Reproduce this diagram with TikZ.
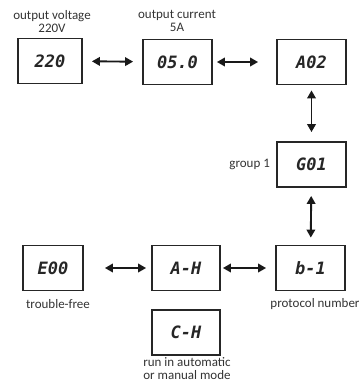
\documentclass[tikz,border=0pt]{standalone}
\usepackage{fontspec}
\setmainfont{Carlito}
\newfontfamily\segfont{DejaVu Sans Mono}
\usetikzlibrary{positioning,arrows.meta}

\begin{document}
\begin{tikzpicture}[
x=1pt,y=-1pt,
display/.style={draw=black!85,line width=1.8pt,minimum width=68pt,minimum height=45pt,inner sep=0pt,font=\segfont\bfseries\itshape\fontsize{17}{17}\selectfont,text=black!85},
caption/.style={align=center,font=\fontsize{13}{13}\selectfont,text=black!80,inner sep=0pt},
arrow/.style={{Triangle[length=8pt,width=8.5pt]}-{Triangle[length=8pt,width=8.5pt]},line width=1.9pt,black!90}
]
\useasboundingbox (0,0) rectangle (360,384);
% top row
\node[display,minimum width=64pt] (volt) at (50,61) {220};
\node[display,minimum width=69pt] (curr) at (177.5,62) {05.0};
\node[display,minimum width=69pt] (addr) at (311.5,62) {A02};
% right column
\node[display,minimum width=69pt] (group) at (311.5,164.5) {G01};
% bottom row
\node[display,minimum width=60pt] (fault) at (53,268) {E00};
\node[display] (mode) at (186,268) {A-H};
\node[display,minimum width=69pt] (proto) at (310.5,268) {b-1};
\node[display] (run) at (186,332.5) {C-H};
% captions
\node[caption] (voltlbl) at (52,22) {output voltage\\220V};
\node[caption] (currlbl) at (177,21) {output current\\5A};
\node[caption,left=6pt of group] (grouplbl) {group 1};
\node[caption] (faultlbl) at (58,304) {trouble-free};
\node[caption] (protolbl) at (315,304) {protocol number};
\node[caption] (runlbl) at (187,369) {run in automatic\\or manual mode};
% connectors
\draw[arrow,shorten <=9pt,shorten >=9pt] (volt)--(curr);
\draw[arrow,shorten <=4pt,shorten >=18pt] (curr)--(addr);
\draw[arrow,shorten <=5pt,shorten >=9pt] (addr)--(group);
\draw[arrow,shorten <=8pt,shorten >=7pt] (group)--(proto);
\draw[arrow,shorten <=21pt,shorten >=5pt] (fault)--(mode);
\draw[arrow,shorten <=2pt,shorten >=9pt] (mode)--(proto);
\end{tikzpicture}
\end{document}
